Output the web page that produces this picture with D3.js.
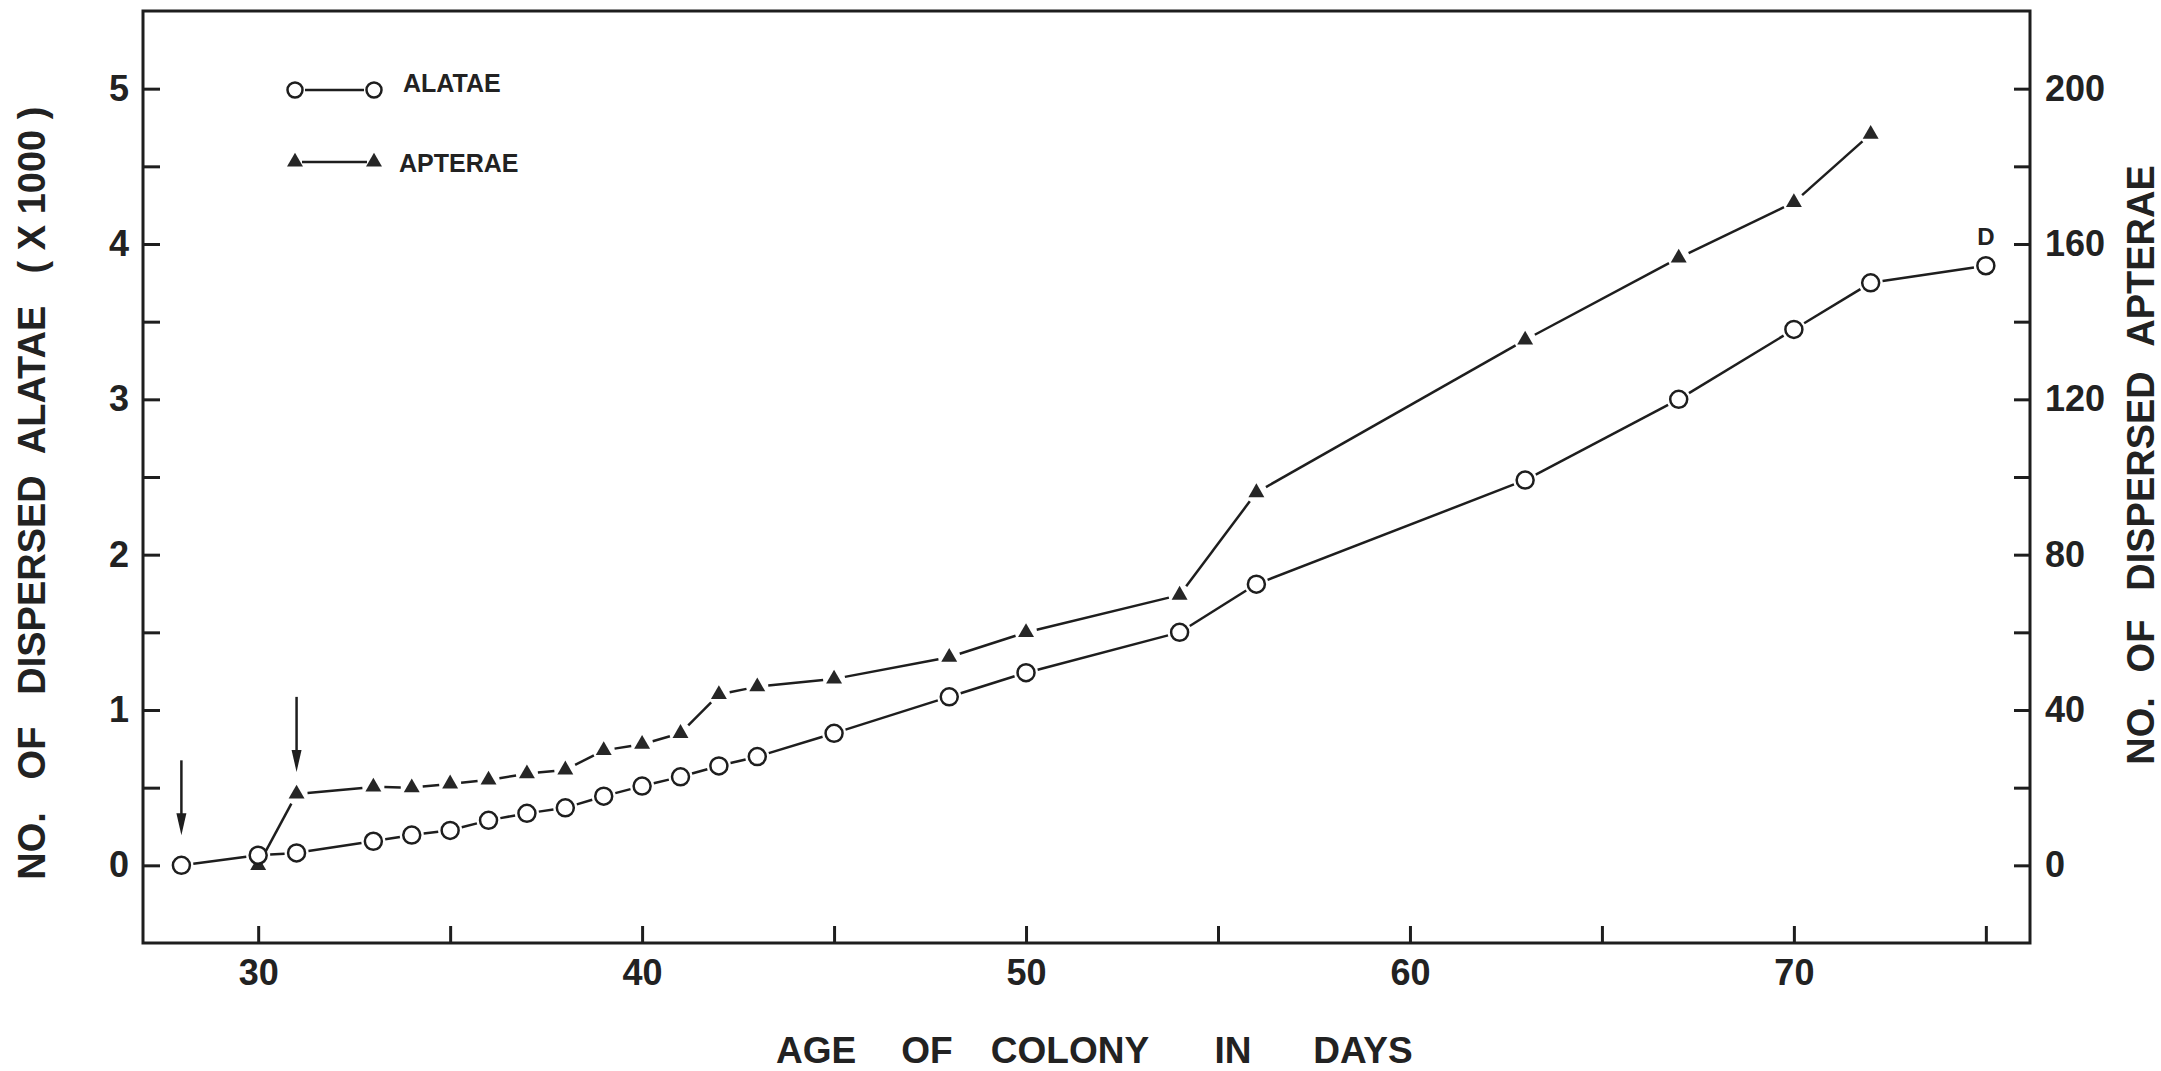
<!DOCTYPE html>
<html>
<head>
<meta charset="utf-8">
<script src="https://cdn.jsdelivr.net/npm/d3@7"></script>
<style>
  body { margin: 0; background: #fff; }
  svg { display: block; }
  text { font-family: "Liberation Sans Narrow", "Arial Narrow", "Liberation Sans", Arial, sans-serif; font-weight: bold; fill: #222; }
</style>
</head>
<body>
<svg id="chart" width="2161" height="1071"></svg>
<script>
// age of colony (days) for each series
var alataeDays = [28, 30, 31, 33, 34, 35, 36, 37, 38, 39, 40, 41, 42, 43, 45, 48, 50, 54, 56, 63, 67, 70, 72, 75];
// dispersed alatae, x 1000 (left axis)
var alataeValues = [0, 0.065, 0.08, 0.155, 0.195, 0.225, 0.29, 0.335, 0.37, 0.445, 0.51, 0.57, 0.64, 0.70, 0.85, 1.085, 1.24, 1.50, 1.81, 2.48, 3.00, 3.45, 3.75, 3.86];

var apteraeDays = [30, 31, 33, 34, 35, 36, 37, 38, 39, 40, 41, 42, 43, 45, 48, 50, 54, 56, 63, 67, 70, 72];
// dispersed apterae (right axis)
var apteraeValues = [0, 18.4, 20.2, 20, 21, 22, 23.6, 24.6, 29.6, 31.2, 34, 44, 46, 48, 53.6, 60, 69.6, 96, 135.3, 156.4, 170.7, 188.3];

var xTicks = [30, 35, 40, 45, 50, 55, 60, 65, 70, 75];
var xLabels = [30, 40, 50, 60, 70];
var leftTicks = [0, 0.5, 1, 1.5, 2, 2.5, 3, 3.5, 4, 4.5, 5];
var leftLabels = [0, 1, 2, 3, 4, 5];
var rightTicks = [0, 20, 40, 60, 80, 100, 120, 140, 160, 180, 200];
var rightLabels = [0, 40, 80, 120, 160, 200];

// arrows mark the start of dispersal of each form
var arrowDays = [28, 31];
var arrowValues = [0, 0.46];

var svg = d3.select("#chart"),
    margin = {top: 11, right: 131, bottom: 128, left: 143},
    width = +svg.attr("width") - margin.left - margin.right,
    height = +svg.attr("height") - margin.top - margin.bottom;

var x = d3.scaleLinear().domain([27, 76.15]).range([0, width]),
    yL = d3.scaleLinear().domain([-0.5, 5.5]).range([height, 0]),
    yR = d3.scaleLinear().domain([-20, 220]).range([height, 0]);

var g = svg.append("g")
    .attr("transform", "translate(" + margin.left + "," + margin.top + ")");

var ink = "#1e1e1e";

// frame
g.append("rect")
    .attr("width", width).attr("height", height)
    .attr("fill", "none").attr("stroke", ink).attr("stroke-width", 3);

// axes (ticks point inwards)
var xAxis = g.append("g")
    .attr("transform", "translate(0," + height + ")")
    .call(d3.axisBottom(x).tickValues(xTicks).tickSizeInner(-17).tickSizeOuter(0)
        .tickFormat(function(d) { return xLabels.indexOf(d) >= 0 ? d : ""; }));

var leftAxis = g.append("g")
    .call(d3.axisLeft(yL).tickValues(leftTicks).tickSizeInner(-17).tickSizeOuter(0)
        .tickFormat(function(d) { return leftLabels.indexOf(d) >= 0 ? d : ""; }));

var rightAxis = g.append("g")
    .attr("transform", "translate(" + width + ",0)")
    .call(d3.axisRight(yR).tickValues(rightTicks).tickSizeInner(-16).tickSizeOuter(0)
        .tickFormat(function(d) { return rightLabels.indexOf(d) >= 0 ? d : ""; }));

[xAxis, leftAxis, rightAxis].forEach(function(a) {
    a.select(".domain").remove();
    a.selectAll(".tick line").attr("stroke", ink).attr("stroke-width", 3);
    a.selectAll(".tick text")
        .style("font-family", null)
        .attr("font-size", 36).attr("fill", "#222");
});
xAxis.selectAll(".tick text").attr("y", 16).attr("dy", "0.71em");
leftAxis.selectAll(".tick text").attr("x", -14);
rightAxis.selectAll(".tick text").attr("x", 15);

// line segments stop short of the markers
function segments(days, vals, ys, gap) {
    var pts = days.map(function(d, i) { return [x(d), ys(vals[i])]; });
    var out = [];
    for (var i = 0; i < pts.length - 1; i++) {
        var p = pts[i], q = pts[i + 1],
            dx = q[0] - p[0], dy = q[1] - p[1],
            len = Math.sqrt(dx * dx + dy * dy);
        if (len <= 2 * gap) continue;
        var ux = dx / len, uy = dy / len;
        out.push([p[0] + ux * gap, p[1] + uy * gap, q[0] - ux * gap, q[1] - uy * gap]);
    }
    return out;
}

g.selectAll(".seg-al")
    .data(segments(alataeDays, alataeValues, yL, 12))
    .enter().append("line")
    .attr("class", "seg-al")
    .attr("x1", function(d) { return d[0]; }).attr("y1", function(d) { return d[1]; })
    .attr("x2", function(d) { return d[2]; }).attr("y2", function(d) { return d[3]; })
    .attr("stroke", ink).attr("stroke-width", 2.5);

g.selectAll(".seg-ap")
    .data(segments(apteraeDays, apteraeValues, yR, 11))
    .enter().append("line")
    .attr("class", "seg-ap")
    .attr("x1", function(d) { return d[0]; }).attr("y1", function(d) { return d[1]; })
    .attr("x2", function(d) { return d[2]; }).attr("y2", function(d) { return d[3]; })
    .attr("stroke", ink).attr("stroke-width", 2.5);

var tri = d3.symbol().type(d3.symbolTriangle).size(110);

g.selectAll(".apt")
    .data(apteraeDays)
    .enter().append("path")
    .attr("class", "apt")
    .attr("transform", function(d, i) { return "translate(" + x(d) + "," + yR(apteraeValues[i]) + ")"; })
    .attr("d", tri)
    .attr("fill", "#262626");

g.selectAll(".ala")
    .data(alataeDays)
    .enter().append("circle")
    .attr("class", "ala")
    .attr("cx", function(d) { return x(d); })
    .attr("cy", function(d, i) { return yL(alataeValues[i]); })
    .attr("r", 8.5)
    .attr("fill", "#fff").attr("stroke", ink).attr("stroke-width", 2.5);

// "D" note over the last alatae point
var lastI = alataeDays.length - 1;
g.append("text")
    .attr("x", x(alataeDays[lastI]))
    .attr("y", yL(alataeValues[lastI]) - 21)
    .attr("text-anchor", "middle")
    .attr("font-size", 24)
    .text("D");

// arrows
arrowDays.forEach(function(d, i) {
    var ax = x(d), tip = yL(arrowValues[i]) - (i === 0 ? 30 : 22);
    g.append("line")
        .attr("x1", ax).attr("x2", ax)
        .attr("y1", tip - 75).attr("y2", tip - 12)
        .attr("stroke", ink).attr("stroke-width", 2.5);
    g.append("path")
        .attr("d", "M" + (ax - 5) + "," + (tip - 22) + "L" + (ax + 5) + "," + (tip - 22) + "L" + ax + "," + tip + "Z")
        .attr("fill", ink);
});

// legend
var leg = svg.append("g");
leg.append("line").attr("x1", 305).attr("x2", 364).attr("y1", 90).attr("y2", 90)
    .attr("stroke", ink).attr("stroke-width", 2.5);
[295, 374].forEach(function(cx) {
    leg.append("circle").attr("cx", cx).attr("cy", 90).attr("r", 7.5)
        .attr("fill", "#fff").attr("stroke", ink).attr("stroke-width", 2.5);
    leg.append("path").attr("transform", "translate(" + cx + ",162)").attr("d", tri).attr("fill", "#262626");
});
leg.append("line").attr("x1", 302).attr("x2", 367).attr("y1", 162).attr("y2", 162)
    .attr("stroke", ink).attr("stroke-width", 2.5);
leg.append("text").attr("x", 403).attr("y", 83).attr("dy", "0.36em").attr("font-size", 25).text("ALATAE");
leg.append("text").attr("x", 399).attr("y", 163).attr("dy", "0.36em").attr("font-size", 25).text("APTERAE");

// axis titles, spaced word by word as in the original
function vWord(cx, cy, txt) {
    svg.append("text")
        .attr("transform", "translate(" + cx + "," + cy + ") rotate(-90)")
        .attr("text-anchor", "middle").attr("dy", "0.36em")
        .attr("font-size", 38)
        .text(txt);
}
vWord(31, 190, "( X 1000 )");
vWord(31, 380, "ALATAE");
vWord(31, 585, "DISPERSED");
vWord(31, 753, "OF");
vWord(31, 846, "NO.");

vWord(2140, 256, "APTERAE");
vWord(2140, 481, "DISPERSED");
vWord(2140, 646, "OF");
vWord(2140, 731, "NO.");

[["AGE", 816], ["OF", 927], ["COLONY", 1070], ["IN", 1233], ["DAYS", 1363]].forEach(function(w) {
    svg.append("text")
        .attr("x", w[1]).attr("y", 1050).attr("dy", "0.36em")
        .attr("text-anchor", "middle").attr("font-size", 37)
        .text(w[0]);
});
</script>
</body>
</html>
